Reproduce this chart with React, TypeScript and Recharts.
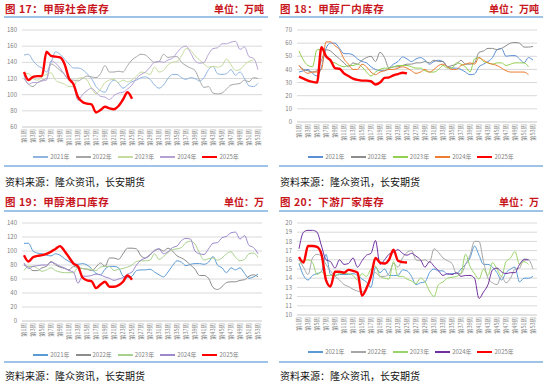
import React from "react";
import { LineChart, Line, XAxis, YAxis, CartesianGrid } from "recharts";

const FONT = "'Noto Sans CJK SC', 'Liberation Sans', sans-serif";

const weeks = [
  "第1周", "第2周", "第3周", "第4周", "第5周", "第6周", "第7周", "第8周", "第9周", "第10周",
  "第11周", "第12周", "第13周", "第14周", "第15周", "第16周", "第17周", "第18周", "第19周", "第20周",
  "第21周", "第22周", "第23周", "第24周", "第25周", "第26周", "第27周", "第28周", "第29周", "第30周",
  "第31周", "第32周", "第33周", "第34周", "第35周", "第36周", "第37周", "第38周", "第39周", "第40周",
  "第41周", "第42周", "第43周", "第44周", "第45周", "第46周", "第47周", "第48周", "第49周", "第50周",
  "第51周", "第52周", "第53周",
];
const years = ["2021年", "2022年", "2023年", "2024年", "2025年"];

// 图17 甲醇社会库存 (万吨)
const social2021 = [149,150,142,136,133,128,140,153,150,144,138,133,133,131,126,120,110,105,103,113,118,114,108,112,116,118,121,122,119,112,108,112,120,125,125,121,119,121,120,117,121,131,135,126,125,126,131,124,128,120,111,110,114];
const social2022 = [120,113,110,115,118,120,138,135,130,125,118,118,117,120,123,122,121,126,136,128,128,129,128,136,143,147,150,149,144,140,141,150,146,147,147,140,136,133,130,118,109,110,102,101,102,107,112,113,114,118,116,121,120];
const social2023 = [126,126,120,118,122,125,127,118,115,113,110,110,120,121,118,108,101,107,115,118,119,115,118,116,118,123,128,127,125,134,128,130,137,140,141,148,157,155,148,143,138,134,135,134,136,144,137,130,131,137,141,143,null];
const social2024 = [124,113,115,115,117,118,142,139,133,125,118,112,93,100,105,108,103,98,97,94,99,102,103,107,112,120,125,128,134,140,141,140,143,145,152,158,160,152,142,139,140,150,157,158,163,163,165,166,156,159,147,145,131];
const social2025 = [128,118,122,123,123,153,148,147,146,138,120,113,97,91,89,88,78,81,85,83,82,86,94,103,95];

// 图18 甲醇厂内库存 (万吨)
const plant2021 = [38,39,40,37,35,42,56,60,60,56,52,52,51,48,46,45,42,40,39,39,41,44,46,49.5,48,46,48,49,47,44,46,47,46,42,41,41,40,38,36,36.5,42,44,46,49,55,56,50,50.5,50.5,48,45,49,47];
const plant2022 = [43,40,39,38,39,47,55,54,51,48,45,42,45,44,47,49,50,46,53,49,41,42,42,43,44,44,45,45,46,45,47,46,46,42,43,44,47,44,44,45,53,54,56,56,55,56,58,60,60.5,60,57,57,57.5];
const plant2023 = [54,47,43,42,55,55,50,46,45,43,42,43,43,44,42,38,35,38,40,41,41,42,43,43,43,42,41,41,39,38,38,40,43,41,41,45,44,42,38,48,49,46,45,44,45,45,43,44,45,45,45,42,null];
const plant2024 = [43,39,37,38,38,40,61,61,58,55,48,44,40,40,44,42,38,36,38,39,40,40,41,42,41,39,37,38,40,38,40,43,44,42,40,40,43,44,45,44,49,47,45,44,43,41,39,38,38,38,38,36,null];
const plant2025 = [34.5,33,31.5,30.5,30,57,50,47,41,40.5,37,35,33,32,31.5,31.5,31,28.5,30,33.5,34,35.5,36.5,37.5,37];

// 图19 甲醇港口库存 (万吨)
const port2021 = [111,111,100,97,96,94,93,96,94,89,85,82,81,82,80,75,68,66,74,78,78,76,64,62,64,72,73,73,74,70,66,63,70,79,86,84,79,81,82,82,81,84,92,80,76,69,76,73,76,68,61,63,67];
const port2022 = [80,77,72,72,76,78,85,80,77,75,73,78,76,75,74,72,77,83,78,90,90,88,96,104,104,103,93,90,94,101,103,100,104,100,93,90,86,80,74,65,65,61,48,45,49,55,56,56,58,59,64,66,63];
const port2023 = [72,78,78,75,71,73,76,72,70,69,69,69,76,75,74,74,72,77,78,78,72,74,75,77,80,85,86,86,87,96,88,92,98,102,103,105,112,114,110,97,87,89,90,87,90,96,99,91,86,88,96,97,91];
const port2024 = [83,75,78,79,80,80,84,82,78,76,72,70,54,64,64,65,67,66,63,61,58,60,62,67,70,80,87,90,95,100,103,96,99,105,107,115,118,117,100,96,95,103,111,112,119,121,126,127,117,122,108,105,96];
const port2025 = [94,85,91,93,94,96,99,103,107,100,91,82,78,62,58,57,47,52,56,49,49,51,56,65,59];

// 图20 下游厂家库存 (万吨)
const down2021 = [15.6,14.3,13.8,14.3,14.5,14.7,16.6,14.4,14.3,14.4,14.4,14.4,14.5,14.3,13.9,13.6,13.0,15.2,14.6,15.0,14.3,14.3,14.3,14.9,14.8,14.2,13.3,13.5,13.6,14.6,15.0,14.8,14.8,14.4,14.5,14.5,15.0,15.5,16.2,17.5,16.5,15.5,15.5,15.2,14.6,13.8,14.6,15.0,15.2,13.6,14.0,14.0,14.2];
const down2022 = [16.0,15.2,14.4,16.2,16.6,16.4,15.5,14.8,14.2,13.8,13.3,13.1,12.8,12.6,12.5,13.0,14.3,14.6,14.2,14.2,14.5,15.6,15.2,16.2,16.8,17.0,16.0,15.9,16.0,15.7,17.2,16.8,16.2,15.9,15.6,14.5,14.5,15.5,16.5,18.0,18.0,15.8,14.0,13.5,13.3,14.2,13.5,14.0,15.0,15.1,16.1,16.0,15.0];
const down2023 = [15.5,15.9,16.0,15.7,14.4,14.7,14.3,14.3,14.3,14.5,14.5,14.5,14.3,13.8,14.5,14.2,15.0,15.3,14.2,14.0,13.9,15.8,14.2,14.2,13.9,13.7,13.4,14.0,13.6,12.6,12.0,13.3,13.6,14.0,14.1,14.2,14.5,16.6,15.3,14.5,13.9,15.0,14.3,15.7,15.0,14.2,15.8,16.2,16.9,15.5,15.8,15.5,null];
const down2024 = [17.2,19.0,19.2,19.2,19.0,17.5,16.0,15.8,15.1,16.0,15.5,15.6,16.2,15.2,15.9,16.5,16.7,18.1,15.5,16.0,16.6,16.8,17.1,16.7,16.5,16.7,16.4,16.0,15.2,15.8,15.3,14.8,14.3,14.5,14.4,14.6,14.2,14.3,14.3,14.0,11.8,12.5,13.3,14.9,15.1,14.7,14.5,14.6,14.6,15.5,16.0,16.0,null];
const down2025 = [16.3,15.7,17.5,17.5,17.4,16.6,13.8,13.1,14.7,14.7,14.6,14.9,14.8,14.6,12.1,12.9,14.2,16.2,15.7,15.6,16.0,17.1,15.9,15.75,15.7];

const socialTicks = [60, 80, 100, 120, 140, 160, 180];
const plantTicks = [0, 10, 20, 30, 40, 50, 60, 70];
const portTicks = [0, 20, 40, 60, 80, 100, 120, 140];
const downTicks = [10, 11, 12, 13, 14, 15, 16, 17, 18, 19, 20];

type Series = { data: (number | null)[]; color: string };

interface PanelProps {
  left: number;
  top: number;
  title: string;
  unit: string;
  ticks: number[];
  series: Series[];
  plotBottom: number;
  titleLineY: number;
  legendY: number;
  lineY: number;
  sourceY: number;
}

const WeekTick = (props: any) => {
  const { x, y, payload } = props;
  return (
    <text
      x={x}
      y={y}
      transform={`rotate(-90 ${x} ${y})`}
      textAnchor="end"
      dominantBaseline="central"
      fontSize={5.5}
      fill="#7f7f7f"
      fontFamily={FONT}
    >
      {payload.value}
    </text>
  );
};

const Panel: React.FC<PanelProps> = ({
  left, top, title, unit, ticks, series, plotBottom, titleLineY, legendY, lineY, sourceY,
}) => {
  const rows = weeks.map((w, i) => {
    const row: Record<string, any> = { week: w };
    series.forEach((s, j) => {
      row["s" + j] = s.data[i];
    });
    return row;
  });
  const height = plotBottom + 20;

  return (
    <div style={{ position: "absolute", left, top, width: 275, height: 193, fontFamily: FONT }}>
      <div style={{ position: "absolute", left: 5, top: 2, fontSize: 10.5, fontWeight: "bold", color: "#C8161D", lineHeight: "14px", whiteSpace: "nowrap", letterSpacing: 0.5 }}>
        {title}
      </div>
      <div style={{ position: "absolute", right: 11, top: 2, fontSize: 10, fontWeight: "bold", color: "#C8161D", lineHeight: "14px", whiteSpace: "nowrap" }}>
        {unit}
      </div>
      <div style={{ position: "absolute", left: 4, width: 264, top: titleLineY, height: 1.5, background: "#9DC3E6" }} />

      <div style={{ position: "absolute", left: 0, top: 0 }}>
        <LineChart width={275} height={height} data={rows} margin={{ top: 30, right: 13, bottom: 0, left: 0 }}>
          <CartesianGrid vertical={false} stroke="#D9D9D9" />
          <XAxis
            dataKey="week"
            scale="point"
            interval={1}
            padding={{ left: 2, right: 4 }}
            height={20}
            tickLine={false}
            axisLine={{ stroke: "#D9D9D9" }}
            tickSize={2}
            tickMargin={0}
            tick={<WeekTick />}
          />
          <YAxis
            width={22}
            domain={[ticks[0], ticks[ticks.length - 1]]}
            ticks={ticks}
            interval={0}
            axisLine={false}
            tickLine={false}
            tickSize={3}
            tickMargin={2}
            tick={{ fontSize: 6, fill: "#7f7f7f", fontFamily: FONT }}
          />
          {series.map((s, j) => (
            <Line
              key={j}
              dataKey={"s" + j}
              type="monotone"
              stroke={s.color}
              strokeWidth={j === 4 ? 2.4 : 1}
              dot={false}
              isAnimationActive={false}
            />
          ))}
        </LineChart>
      </div>

      <div style={{ position: "absolute", left: 0, width: 272, top: legendY - 5, height: 10, display: "flex", justifyContent: "center", alignItems: "center" }}>
        {series.map((s, j) => (
          <div key={j} style={{ display: "flex", alignItems: "center", margin: "0 3px" }}>
            <div style={{ width: 15, height: j === 4 ? 2.5 : 1.2, background: s.color }} />
            <span style={{ fontSize: 6, color: "#7f7f7f", marginLeft: 2, lineHeight: "10px" }}>{years[j]}</span>
          </div>
        ))}
      </div>

      <div style={{ position: "absolute", left: 4, width: 264, top: lineY, height: 2, background: "#9DC3E6" }} />
      <div style={{ position: "absolute", left: 5, top: sourceY - 7, fontSize: 10, color: "#111", lineHeight: "14px", whiteSpace: "nowrap" }}>
        资料来源：隆众资讯，长安期货
      </div>
    </div>
  );
};

export default function App() {
  return (
    <div style={{ position: "absolute", left: 0, top: 0, width: 550, height: 386, background: "#fff", overflow: "hidden" }}>
      <Panel
        left={0}
        top={0}
        title="图 17：甲醇社会库存"
        unit="单位：万吨"
        ticks={socialTicks}
        series={[
          { data: social2021, color: "#8FB4E0" },
          { data: social2022, color: "#A6A6A6" },
          { data: social2023, color: "#C5DC9E" },
          { data: social2024, color: "#B4A2D4" },
          { data: social2025, color: "#FF0000" },
        ]}
        plotBottom={127}
        titleLineY={16}
        legendY={157}
        lineY={165}
        sourceY={182}
      />
      <Panel
        left={275}
        top={0}
        title="图 18：甲醇厂内库存"
        unit="单位：万吨"
        ticks={plantTicks}
        series={[
          { data: plant2021, color: "#5B8FD5" },
          { data: plant2022, color: "#8C8C8C" },
          { data: plant2023, color: "#92D050" },
          { data: plant2024, color: "#ED7D31" },
          { data: plant2025, color: "#FF0000" },
        ]}
        plotBottom={122}
        titleLineY={16}
        legendY={157}
        lineY={165}
        sourceY={182}
      />
      <Panel
        left={0}
        top={193}
        title="图 19：甲醇港口库存"
        unit="单位：万"
        ticks={portTicks}
        series={[
          { data: port2021, color: "#5B9BD5" },
          { data: port2022, color: "#8C8C8C" },
          { data: port2023, color: "#A9D18E" },
          { data: port2024, color: "#9C88CC" },
          { data: port2025, color: "#FF0000" },
        ]}
        plotBottom={128}
        titleLineY={17}
        legendY={162}
        lineY={168}
        sourceY={183}
      />
      <Panel
        left={275}
        top={193}
        title="图 20：下游厂家库存"
        unit="单位：万"
        ticks={downTicks}
        series={[
          { data: down2021, color: "#5B9BD5" },
          { data: down2022, color: "#A6A6A6" },
          { data: down2023, color: "#9BD56A" },
          { data: down2024, color: "#7030A0" },
          { data: down2025, color: "#FF0000" },
        ]}
        plotBottom={122}
        titleLineY={17}
        legendY={159}
        lineY={168}
        sourceY={183}
      />
    </div>
  );
}
